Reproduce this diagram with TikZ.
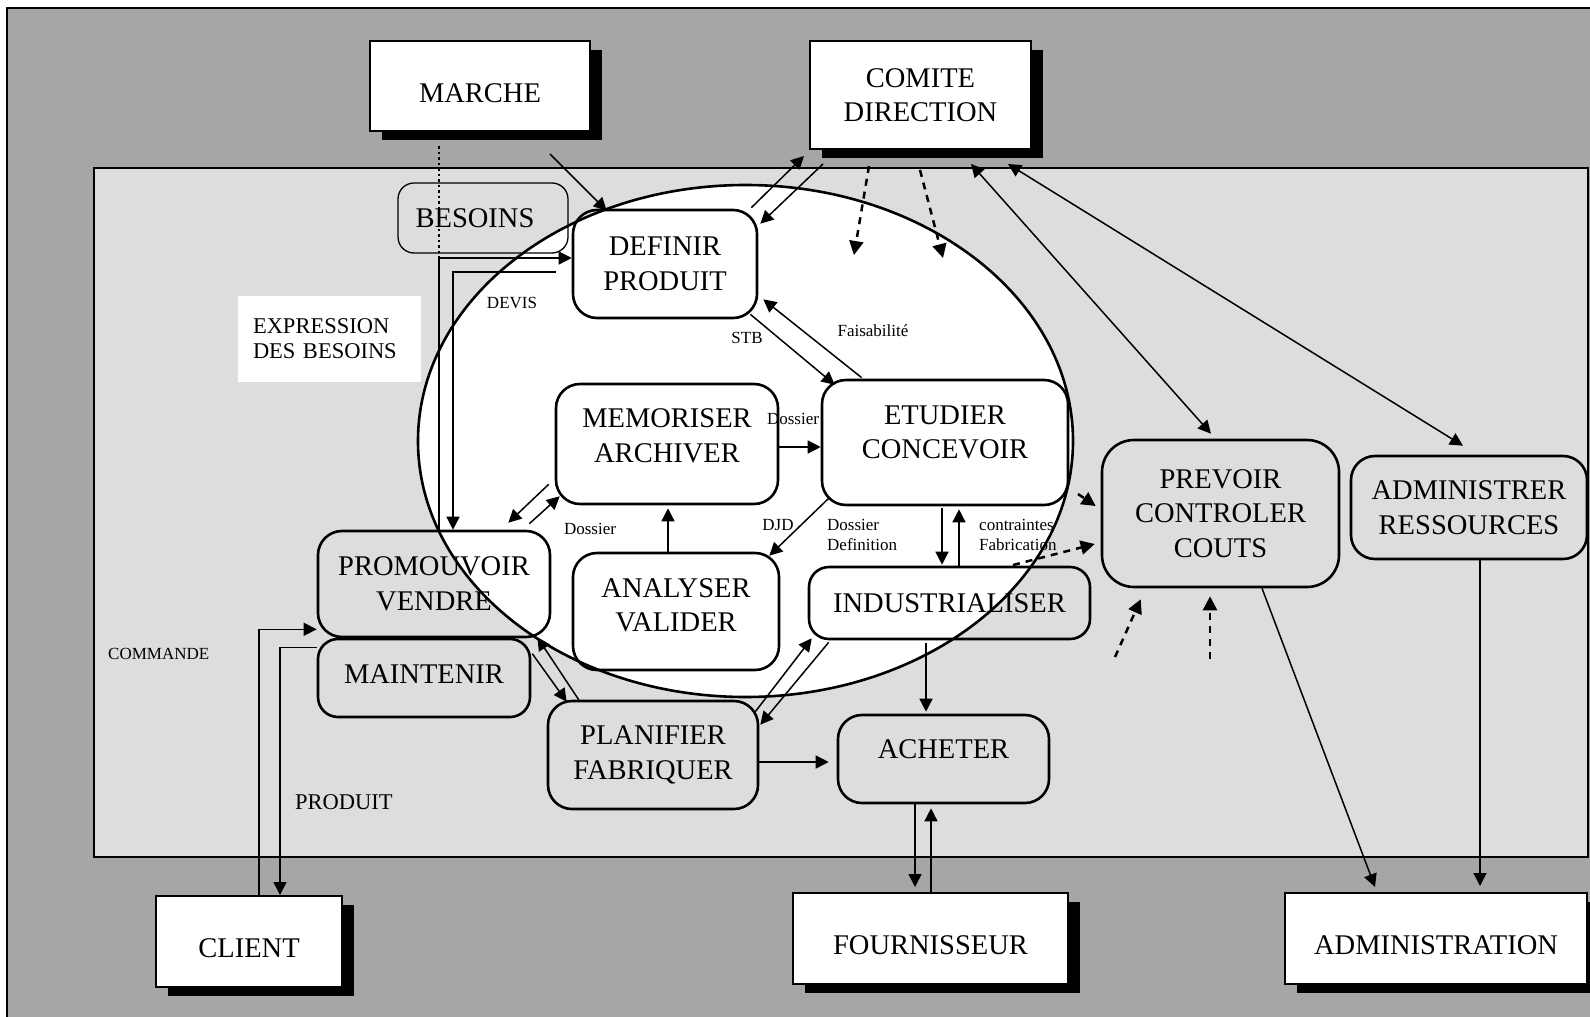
\documentclass[tikz,border=0pt]{standalone}
\usepackage{fontspec}
\setmainfont{Liberation Serif}
\usetikzlibrary{arrows.meta,shadows,calc}
\definecolor{darkbg}{HTML}{A6A6A6}
\definecolor{lightbg}{HTML}{DDDDDD}
\newcommand\fbig{\fontsize{28.5}{34.5}\selectfont}
\newcommand\fmid{\fontsize{22.5}{25}\selectfont}
\newcommand\fsml{\fontsize{17}{20}\selectfont}
\begin{document}
\begin{tikzpicture}[x=1pt,y=-1pt,
 proc/.style={draw, line width=2.6pt, rounded corners=24pt, font=\fbig, align=center, inner sep=0pt},
 outbox/.style={draw, fill=white, line width=2pt, font=\fbig, align=center, inner sep=0pt,
   general shadow={fill=black, shadow xshift=12pt, shadow yshift=-9pt}},
 arr/.style={-{Triangle[length=13pt,width=13pt]}, line width=1.5pt},
 darr/.style={{Triangle[length=13pt,width=13pt]}-{Triangle[length=13pt,width=13pt]}, line width=1.5pt},
 dasharr/.style={-{Triangle[length=14pt,width=14pt]}, line width=2.5pt, dash pattern=on 7pt off 6pt},
 small/.style={font=\fsml, inner sep=0pt},
 txt/.style={font=\fbig, align=center, inner sep=0pt}
]
\useasboundingbox (0,0) rectangle (1590,1017);
% frames
\draw[fill=darkbg, line width=2pt] (7,8) rectangle (1620,1040);
\draw[fill=lightbg, line width=2.3pt] (94,168) rectangle (1588,857);
% ellipse
\draw[fill=white, line width=2.6pt] (745.5,441) ellipse [x radius=327.5pt, y radius=256pt];
% expression box
\node[fill=white, minimum height=86pt, text width=153pt, inner xsep=15pt, inner ysep=0pt, align=left, font=\fmid] (expr) at (329.5,339) {EXPRESSION\\DES BESOINS};
% outer boxes
\node[outbox,minimum width=220pt,minimum height=90pt,label={[txt,yshift=-7pt]center:MARCHE}] (marche) at (480,86) {};
\node[outbox,minimum width=221pt,minimum height=108pt] (comite) at (920.5,95) {COMITE\\DIRECTION};
\node[outbox,minimum width=186pt,minimum height=91pt,label={[txt,yshift=-7pt]center:CLIENT}] (client) at (249,941.5) {};
\node[outbox,minimum width=275pt,minimum height=91pt,label={[txt,yshift=-7pt]center:FOURNISSEUR}] (fournisseur) at (930.5,938.5) {};
\node[outbox,minimum width=302pt,minimum height=91pt,label={[txt,yshift=-7pt]center:ADMINISTRATION}] (administration) at (1436,938.5) {};
% process boxes
\node[proc,minimum width=170pt,minimum height=70pt,line width=1.3pt,rounded corners=16pt,label={[txt,xshift=-8pt]center:BESOINS}] (besoins) at (483,218) {};
\node[proc,minimum width=184pt,minimum height=108pt] (definir) at (665,264) {DEFINIR\\PRODUIT};
\node[proc,minimum width=246pt,minimum height=125pt,label={[txt,yshift=10pt]center:{ETUDIER\\CONCEVOIR}}] (etudier) at (945,442.5) {};
\node[proc,minimum width=222pt,minimum height=120pt,label={[txt,yshift=8pt]center:{MEMORISER\\ARCHIVER}}] (memoriser) at (667,444) {};
\node[proc,minimum width=206pt,minimum height=117pt,label={[txt,yshift=6pt]center:{ANALYSER\\VALIDER}}] (analyser) at (676,611.5) {};
\node[proc,minimum width=232pt,minimum height=106pt] (promouvoir) at (434,584) {PROMOUVOIR\\VENDRE};
\node[proc,minimum width=212pt,minimum height=78pt,rounded corners=20pt,label={[txt,yshift=4pt]center:MAINTENIR}] (maintenir) at (424,678) {};
\node[proc,minimum width=281pt,minimum height=72pt,rounded corners=20pt] (industrialiser) at (949.5,603) {INDUSTRIALISER};
\node[proc,minimum width=210pt,minimum height=108pt] (planifier) at (653,755) {PLANIFIER\\FABRIQUER};
\node[proc,minimum width=211pt,minimum height=88pt,label={[txt,yshift=10pt]center:ACHETER}] (acheter) at (943.5,759) {};
\node[proc,minimum width=237pt,minimum height=147pt,rounded corners=32pt] (prevoir) at (1220.5,513.5) {PREVOIR\\CONTROLER\\COUTS};
\node[proc,minimum width=236pt,minimum height=103pt] (administrer) at (1469,507.5) {ADMINISTRER\\RESSOURCES};
% coordinates
\coordinate (cA) at (439,258);
\coordinate (cB) at (453,272);
\coordinate (dc1) at (854,255);
\coordinate (dc2) at (943,258);
\coordinate (dp1) at (1078,494);
\coordinate (dp2) at (1013,565);
\coordinate (dp3) at (1115,657);
\coordinate (dp4) at (1210,659);
% connectors
\draw[line width=1.5pt, dash pattern=on 2.5pt off 3pt] ($(marche.south)+(-41,14)$) -- (cA);
\draw[arr] (promouvoir.north -| cA) -- (cA) -- (cA -| definir.west);
\draw[arr] ($(definir.west)+(-16,8)$) -- (cB) -- (cB |- promouvoir.north);
\draw[arr] ($(marche.south)+(70,22)$) -- ($(definir.north west)+(35,2)$);
\draw[arr] ($(definir.north east)+(-7,-1)$) -- ($(comite.south west)+(-5,6)$);
\draw[arr] ($(comite.south west)+(14,14)$) -- ($(definir.north east)+(2,15)$);
\draw[dasharr] ($(comite.south)+(-51.5,16)$) -- (dc1);
\draw[dasharr] ($(comite.south)+(-0.5,20)$) -- (dc2);
\draw[arr] ($(definir.south east)+(-8,-5)$) -- ($(etudier.north west)+(14,6)$);
\draw[arr] ($(etudier.north west)+(41,-1)$) -- ($(definir.south east)+(5,-20)$);
\draw[darr] ($(comite.south east)+(-61,14)$) -- ($(prevoir.north)+(-9.5,-5)$);
\draw[darr] ($(comite.south east)+(-24,14)$) -- ($(administrer.north)+(-6,-9)$);
\draw[arr] ($(memoriser.east)+(0,3)$) -- ($(etudier.west)+(0,4.5)$);
\draw[arr] ($(etudier.south west)+(8,-8)$) -- ($(analyser.north east)+(-11,4)$);
\draw[arr] ($(analyser.north)+(-8,0)$) -- ($(memoriser.south)+(1,3)$);
\draw[arr] ($(memoriser.south west)+(-6,-21)$) -- ($(promouvoir.north east)+(-43,-7)$);
\draw[arr] ($(promouvoir.north east)+(-22,-6)$) -- ($(memoriser.south west)+(5,-9)$);
\draw[arr] ($(etudier.south)+(-3,2)$) -- ($(industrialiser.north)+(-7.5,-1)$);
\draw[arr] ($(industrialiser.north)+(9.5,0)$) -- ($(etudier.south)+(14,3)$);
\draw[arr] ($(industrialiser.south)+(-23.5,3)$) -- ($(acheter.north)+(-17.5,-2)$);
\draw[arr] ($(planifier.north east)+(-4,12)$) -- ($(industrialiser.south west)+(4,-2)$);
\draw[arr] ($(industrialiser.south west)+(21,2)$) -- ($(planifier.north east)+(1,25)$);
\draw[arr] ($(maintenir.north east)+(1,16)$) -- ($(planifier.north west)+(20,2)$);
\draw[arr] ($(planifier.north west)+(32,0)$) -- ($(promouvoir.south east)+(-14,-1)$);
\draw[arr] ($(planifier.east)+(0,7)$) -- ($(acheter.west)+(-8,3)$);
\draw[arr] ($(acheter.south)+(-28.5,0)$) -- ($(fournisseur.north)+(-15.5,-5)$);
\draw[arr] ($(fournisseur.north)+(0.5,0)$) -- ($(acheter.south)+(-12.5,4)$);
\draw[arr] ($(prevoir.south)+(41.5,0)$) -- ($(administration.north)+(-61,-5)$);
\draw[arr] ($(administrer.south)+(11,0)$) -- ($(administration.north)+(44,-6)$);
\draw[arr] ($(client.north)+(10,0)$) |- ($(promouvoir.south west)+(0,-9)$);
\draw[arr] ($(maintenir.north west)+(0,10)$) -| ($(client.north)+(31,0)$);
\draw[dasharr] (dp1) -- ($(prevoir.west)+(-5,-7.5)$);
\draw[dasharr] (dp2) -- ($(prevoir.west)+(-6,30.5)$);
\draw[dasharr] (dp3) -- ($(prevoir.south west)+(40,11)$);
\draw[dasharr] (dp4) -- ($(prevoir.south)+(-10.5,8)$);
% labels
\node[small] (lDevis) at (512,303) {DEVIS};
\node[small] (lStb) at (747,338) {STB};
\node[small] (lFais) at (873,331) {Faisabilité};
\node[small] (lDos1) at (793,419) {Dossier};
\node[small] (lDos2) at (590,529) {Dossier};
\node[small] (lDjd) at (778,525) {DJD};
\node[small,align=left,anchor=west] (lDef) at (827,535) {Dossier\\Definition};
\node[small,align=left,anchor=west] (lCon) at (979,535) {contraintes\\Fabrication};
\node[small,anchor=west] (lCom) at (108,654) {COMMANDE};
\node[font=\fmid,inner sep=0pt,anchor=west] (lProd) at (295,802) {PRODUIT};
\end{tikzpicture}
\end{document}
